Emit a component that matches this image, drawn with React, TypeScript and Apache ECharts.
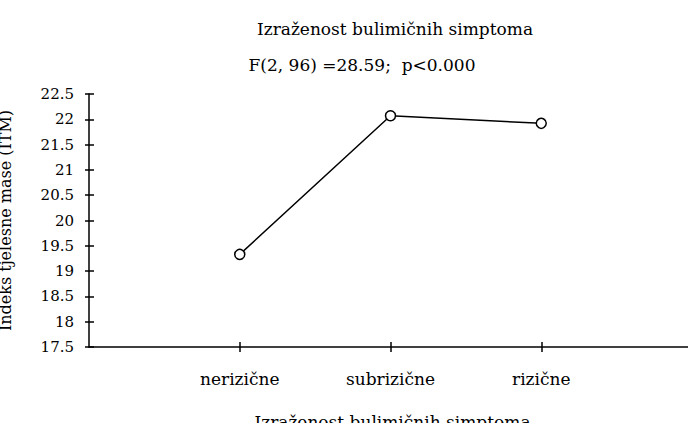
import React, { useEffect, useRef } from "react";
import * as echarts from "echarts";

const categories = ["", "nerizične", "subrizične", "rizične", ""];
const bmiValues: (number | null)[] = [null, 19.33, 22.07, 21.92, null];
const chartTitle = "Izraženost bulimičnih simptoma";
const chartSubtitle = "F(2, 96) =28.59;  p<0.000";
const xAxisTitle = "Izraženost bulimičnih simptoma";
const yAxisTitle = "Indeks tjelesne mase (ITM)";

const FONT = "DejaVu Serif";

export default function App() {
  const ref = useRef<HTMLDivElement>(null);
  useEffect(() => {
    if (!ref.current) return;
    const chart = echarts.init(ref.current, null, { renderer: "svg" });
    const tickShow = (i: number) => i > 0 && i < categories.length - 1;
    chart.setOption({
      animation: false,
      backgroundColor: "#ffffff",
      title: [
        {
          text: chartTitle,
          left: 390,
          top: 15,
          textAlign: "center",
          textStyle: { fontFamily: FONT, fontSize: 17, fontWeight: "normal", color: "#000" },
        },
        {
          text: chartSubtitle,
          left: 357,
          top: 51,
          textAlign: "center",
          textStyle: { fontFamily: FONT, fontSize: 17, fontWeight: "normal", color: "#000" },
        },
      ],
      grid: { left: 89, top: 94, width: 603, height: 253, containLabel: false, outerBoundsMode: "none" },
      xAxis: [
        {
          type: "category",
          data: categories,
          boundaryGap: false,
          axisLine: { lineStyle: { color: "#000", width: 1.5 } },
          axisTick: { interval: (i: number) => tickShow(i), length: 5, lineStyle: { color: "#000", width: 1.5 } },
          axisLabel: {
            interval: 0,
            margin: 23,
            fontFamily: FONT,
            fontSize: 17,
            color: "#000",
          },
          name: xAxisTitle,
          nameLocation: "middle",
          nameGap: 66,
          nameTextStyle: { fontFamily: FONT, fontSize: 17, color: "#000", padding: [0, 0, 0, 4] },
          splitLine: { show: false },
        },
        {
          type: "category",
          data: categories,
          boundaryGap: false,
          position: "bottom",
          axisLine: { show: false },
          axisTick: { inside: true, interval: (i: number) => tickShow(i), length: 5, lineStyle: { color: "#000", width: 1.5 } },
          axisLabel: { show: false },
          splitLine: { show: false },
        },
      ],
      yAxis: [
        {
          type: "value",
          min: 17.5,
          max: 22.5,
          interval: 0.5,
          axisLine: { show: true, lineStyle: { color: "#000", width: 1.5 } },
          axisTick: { show: true, length: 4, lineStyle: { color: "#000", width: 1.5 } },
          axisLabel: { margin: 15, fontFamily: FONT, fontSize: 15, color: "#000" },
          splitLine: { show: false },
          name: yAxisTitle,
          nameLocation: "middle",
          nameGap: 76,
          nameRotate: 90,
          nameTextStyle: { fontFamily: FONT, fontSize: 16, color: "#000" },
        },
        {
          type: "value",
          min: 17.5,
          max: 22.5,
          interval: 0.5,
          position: "left",
          axisLine: { show: false },
          axisTick: { show: true, inside: true, length: 5, lineStyle: { color: "#000", width: 1.5 } },
          axisLabel: { show: false },
          splitLine: { show: false },
        },
      ],
      series: [
        {
          type: "line",
          data: bmiValues,
          symbol: "circle",
          symbolSize: 10,
          connectNulls: false,
          lineStyle: { color: "#000", width: 1.5 },
          itemStyle: { color: "#fff", borderColor: "#000", borderWidth: 1.5 },
        },
      ],
    });
    return () => chart.dispose();
  }, []);
  return <div ref={ref} style={{ width: 688, height: 423, position: "absolute", left: 0, top: 0 }} />;
}
